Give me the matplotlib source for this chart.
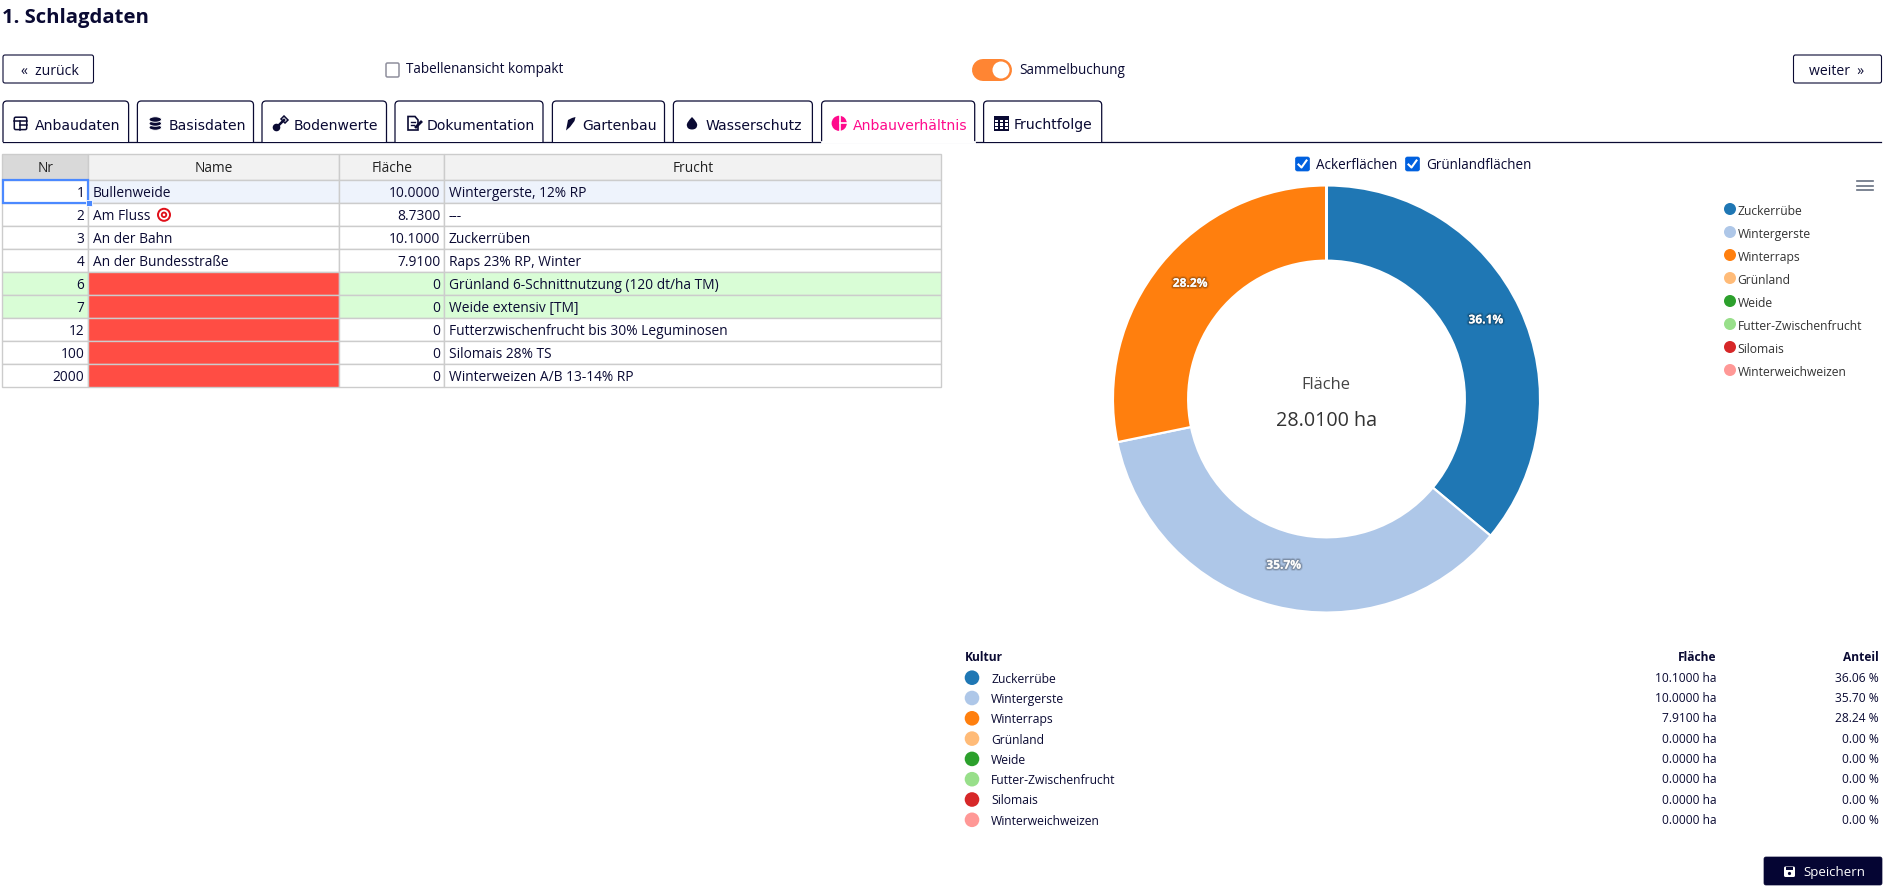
import matplotlib
matplotlib.use('Agg')
import matplotlib.pyplot as plt
import matplotlib.patheffects as pe
from matplotlib.patches import Rectangle, Circle, FancyBboxPatch, PathPatch, Ellipse, Polygon
from matplotlib.path import Path

plt.rcParams['font.family'] = ['Open Sans', 'DejaVu Sans']

# Data
nr = [1, 2, 3, 4, 6, 7, 12, 100, 2000]
names = ['Bullenweide', 'Am Fluss', 'An der Bahn', 'An der Bundesstraße', '', '', '', '', '']
flaeche = ['10.0000', '8.7300', '10.1000', '7.9100', '0', '0', '0', '0', '0']
frucht = ['Wintergerste, 12% RP', '---', 'Zuckerrüben', 'Raps 23% RP, Winter',
          'Grünland 6-Schnittnutzung (120 dt/ha TM)', 'Weide extensiv [TM]',
          'Futterzwischenfrucht bis 30% Leguminosen', 'Silomais 28% TS', 'Winterweizen A/B 13-14% RP']
table_header = ['Nr', 'Name', 'Fläche', 'Frucht']

kulturen = ['Zuckerrübe', 'Wintergerste', 'Winterraps', 'Grünland', 'Weide',
            'Futter-Zwischenfrucht', 'Silomais', 'Winterweichweizen']
kultur_ha = [10.1, 10.0, 7.91, 0, 0, 0, 0, 0]
kultur_anteil = [36.06, 35.70, 28.24, 0, 0, 0, 0, 0]
kultur_colors = ['#1f77b4', '#aec7e8', '#ff7f0e', '#ffbb78', '#2ca02c', '#98df8a', '#d62728', '#ff9896']

tab_labels = ['Anbaudaten', 'Basisdaten', 'Bodenwerte', 'Dokumentation', 'Gartenbau',
              'Wasserschutz', 'Anbauverhältnis', 'Fruchtfolge']

W, H = 1890, 892
NAVY = '#0a0a33'
PINK = '#ff0a8c'
GRID = '#cccccc'

fig = plt.figure(figsize=(W / 100, H / 100), dpi=100, facecolor='white')
ax = fig.add_axes([0, 0, 1, 1])
ax.set_xlim(0, W)
ax.set_ylim(H, 0)
ax.axis('off')


def px(n):
    return n * 0.72


def label(x, y, s, size=14, color=NAVY, ha='left', weight='normal', **kw):
    return ax.text(x, y, s, fontsize=px(size), color=color, ha=ha, va='center_baseline',
                   fontweight=weight, **kw)


def button(x0, y0, x1, y1, face='white', edge=NAVY):
    ax.add_patch(FancyBboxPatch((x0 + 1, y0 + 1), x1 - x0 - 2, y1 - y0 - 2,
                                boxstyle='round,pad=1,rounding_size=2',
                                fc=face, ec=edge, lw=0.8))


def checkbox(x, y, checked):
    if checked:
        ax.add_patch(FancyBboxPatch((x + 1, y + 1), 12, 12, boxstyle='round,pad=1,rounding_size=2',
                                    fc='#0060df', ec='#0060df', lw=0.5))
        ax.plot([x + 3, x + 6, x + 11], [y + 7.5, y + 10.5, y + 3.5], color='white', lw=1.5)
    else:
        ax.add_patch(FancyBboxPatch((x + 1, y + 1), 11, 12, boxstyle='round,pad=1,rounding_size=1.5',
                                    fc='white', ec='#8f8f9d', lw=1.1))


def tab(x0, x1, y0=101, y1=142, active=False):
    r = 4
    verts = [(x0, y1), (x0, y0 + r), (x0, y0), (x0 + r, y0), (x1 - r, y0), (x1, y0), (x1, y0 + r), (x1, y1)]
    codes = [Path.MOVETO, Path.LINETO, Path.CURVE3, Path.CURVE3, Path.LINETO, Path.CURVE3, Path.CURVE3, Path.LINETO]
    ax.add_patch(PathPatch(Path(verts, codes), fc='white', ec=NAVY, lw=0.9, zorder=3))
    if active:
        ax.plot([x0 + 0.8, x1 - 0.8], [y1, y1], color='white', lw=2, zorder=4)


# Title and top controls
label(2, 16, '1. Schlagdaten', size=20.3, weight='bold')
button(3, 55, 93.5, 83)
label(50, 69.5, '«  zurück', ha='center')
checkbox(386, 63, False)
label(406.5, 67.5, 'Tabellenansicht kompakt', size=13.5)
ax.plot([983, 1001], [70, 70], color='#ff8533', lw=px(22), solid_capstyle='round')
ax.add_patch(Circle((1001, 70), 8.5, fc='white', ec='none', zorder=3))
label(1019, 69, 'Sammelbuchung', size=13.5)
button(1793.5, 55, 1881.5, 83)
label(1837, 69.5, 'weiter  »', ha='center')

# Tabs
tab_x = [(3, 128.6), (137.4, 253.5), (262, 386.5), (395, 543), (552.4, 664.5), (673.4, 812.4),
         (821.6, 974.7), (983.6, 1101.7)]
text_x = [35, 168.3, 294, 427, 582.2, 705.3, 853, 1013.5]
ax.plot([3, 1881], [142, 142], color=NAVY, lw=0.9, zorder=2)
for i, (x0, x1) in enumerate(tab_x):
    tab(x0, x1, active=i == 6)
    label(text_x[i], 124, tab_labels[i], color=PINK if i == 6 else NAVY, zorder=5, family='DejaVu Sans')

# tab icons
z = 6
ax.add_patch(FancyBboxPatch((14.3, 117.2), 12.4, 12.4, boxstyle='round,pad=0,rounding_size=1.5', fc='none', ec=NAVY, lw=1.1, zorder=z))
ax.plot([14.3, 26.7], [120.8, 120.8], color=NAVY, lw=1.1, zorder=z)
ax.plot([19.5, 19.5], [120.8, 129.6], color=NAVY, lw=1.1, zorder=z)
ax.plot([19.5, 26.7], [125, 125], color=NAVY, lw=1.1, zorder=z)
for yy in [127.5, 123.5, 119.5]:
    ax.add_patch(Ellipse((155.3, yy), 12.5, 5.5, fc=NAVY, ec='white', lw=0.7, zorder=z))
ax.add_patch(Circle((276.5, 127.5), 3.8, fc=NAVY, ec='none', zorder=z))
ax.plot([277, 284], [127, 120], color=NAVY, lw=1.8, zorder=z)
ax.add_patch(Polygon([(281, 119), (284, 116), (288, 120), (285, 123)], fc='none', ec=NAVY, lw=1.1, zorder=z))
ax.add_patch(Polygon([(408, 116.5), (415, 116.5), (418, 120), (418, 130), (408, 130)], fc='none', ec=NAVY, lw=1.2, zorder=z))
ax.plot([410.5, 415], [122, 122], color=NAVY, lw=1, zorder=z)
ax.plot([410.5, 414], [125, 125], color=NAVY, lw=1, zorder=z)
ax.plot([416, 421], [127, 122], color=NAVY, lw=2, zorder=z)
ax.add_patch(Polygon([(566, 130.5), (568, 120), (572, 118), (575.5, 117), (574.5, 121), (570, 127)], fc=NAVY, ec='none', zorder=z))
ax.add_patch(PathPatch(Path([(692, 117), (686.6, 122.5), (686.8, 125), (687, 129.5), (692, 129.5),
                             (697, 129.5), (697.2, 125), (697.4, 122.5), (692, 117)],
                            [Path.MOVETO, Path.CURVE3, Path.CURVE3, Path.CURVE3, Path.CURVE3,
                             Path.CURVE3, Path.CURVE3, Path.CURVE3, Path.CURVE3]),
                       fc=NAVY, ec='none', zorder=z))
ax.add_patch(Circle((839.2, 123.3), 7.6, fc=PINK, ec='none', zorder=z))
ax.plot([839.8, 839.8], [115, 132], color='white', lw=1.2, zorder=z)
ax.plot([839.8, 848], [123.3, 123.3], color='white', lw=1.2, zorder=z)
ax.add_patch(Rectangle((993.7, 116.2), 15, 14.5, fc=NAVY, ec='none', zorder=z))
for bx in [995.2, 999.9, 1004.6]:
    for by in [119.8, 123.4, 127]:
        ax.add_patch(Rectangle((bx, by), 2.9, 2.3, fc='white', ec='none', zorder=z))

# Left table
col_x = [2.4, 88.4, 339, 444.3, 941.4]
row_y = [153.8, 179.8] + [179.8 + 23 * (i + 1) for i in range(len(nr))]
for j, head in enumerate(table_header):
    ax.add_patch(Rectangle((col_x[j], row_y[0]), col_x[j + 1] - col_x[j], row_y[1] - row_y[0],
                           fc='#d9d9d9' if j == 0 else '#f2f2f2', ec=GRID, lw=1))
    label((col_x[j] + col_x[j + 1]) / 2, 167, head, size=13.7, color='#222222', ha='center')
for i in range(len(nr)):
    y0, y1 = row_y[i + 1], row_y[i + 2]
    row_fill = '#eef3fc' if i == 0 else ('#d9fdd6' if i in (4, 5) else 'white')
    for j in range(4):
        face = row_fill
        if j == 0 and i == 0:
            face = 'white'
        if j == 1 and i >= 4:
            face = '#ff4d44'
        ax.add_patch(Rectangle((col_x[j], y0), col_x[j + 1] - col_x[j], y1 - y0, fc=face, ec=GRID, lw=1))
    ym = (y0 + y1) / 2
    label(col_x[1] - 4, ym, str(nr[i]), size=13.7, ha='right')
    label(col_x[1] + 4.5, ym, names[i], size=13.7)
    label(col_x[3] - 4, ym, flaeche[i], size=13.7, ha='right')
    label(col_x[3] + 4.5, ym, frucht[i], size=13.7)
ax.add_patch(Rectangle((col_x[0] + 0.5, row_y[1]), col_x[1] - col_x[0] - 1, 23, fc='none', ec='#4b89ff', lw=1.6, zorder=4))
ax.add_patch(Rectangle((85.5, 200), 6, 6, fc='#4b89ff', ec='white', lw=0.6, zorder=5))
# target icon next to Am Fluss
ax.add_patch(Circle((164, 214.8), 7, fc='#e0101a', ec='none', zorder=4))
ax.add_patch(Circle((164, 214.8), 5, fc='white', ec='none', zorder=4))
ax.add_patch(Circle((164, 214.8), 3.2, fc='#e0101a', ec='none', zorder=4))
ax.add_patch(Circle((164, 214.8), 1.3, fc='white', ec='none', zorder=4))

# Chart controls
checkbox(1295.5, 157, True)
label(1315.5, 163.5, 'Ackerflächen', size=13.5)
checkbox(1405.5, 157, True)
label(1426.5, 163.5, 'Grünlandflächen', size=13.5)
for yy in [181, 185.5, 190]:
    ax.plot([1857, 1873], [yy, yy], color='#666f80', lw=1.2)

# Donut
cx, cy, R = 1326.5, 399, 212.5
lim = 1.02
ax_pie = fig.add_axes([(cx - R * lim) / W, 1 - (cy + R * lim) / H, 2 * R * lim / W, 2 * R * lim / H])
wedges, _, pct = ax_pie.pie(kultur_ha, colors=kultur_colors, startangle=90, counterclock=False, radius=1.005,
                            wedgeprops=dict(width=0.354, edgecolor='white', linewidth=1.6),
                            autopct=lambda p: f'{p:.1f}%' if p > 0 else '', pctdistance=0.824,
                            textprops=dict(fontsize=px(12), color='white', fontweight='bold'))
ax_pie.set_xlim(-lim, lim)
ax_pie.set_ylim(-lim, lim)
for t in pct:
    tx, ty = t.get_position()
    t.set_position((tx, ty + 4.5 / R))
    t.set_path_effects([pe.Stroke(linewidth=3.2, foreground=(0, 0, 0, 0.10)),
                        pe.Stroke(linewidth=1.8, foreground=(0, 0, 0, 0.20)), pe.Normal()])
ax_pie.text(-1 / R, (399 - 382.7) / R, 'Fläche', ha='center', va='center_baseline', fontsize=px(16.5), color='#444444')
ax_pie.text(0, (399 - 418) / R, '28.0100 ha', ha='center', va='center_baseline', fontsize=px(19.8), color='#333333')

# Chart legend
for i, name in enumerate(kulturen):
    y = 209 + 23 * i
    ax.add_patch(Circle((1730, y), 6, fc=kultur_colors[i], ec='none'))
    label(1737.7, y + 1, name, size=12.1, color='#333333')

# Summary table
label(964.5, 656, 'Kultur', size=12, weight='bold')
label(1716.7, 656, 'Fläche', size=12, weight='bold', ha='right')
label(1878.5, 656, 'Anteil', size=12, weight='bold', ha='right')
for i, name in enumerate(kulturen):
    y = 677.7 + 20.3 * i
    ax.add_patch(Circle((972, y), 7.3, fc=kultur_colors[i], ec='none'))
    label(991, y, name, size=12.1)
    label(1716.7, y - 1, f'{kultur_ha[i]:.4f} ha', size=12, ha='right')
    label(1878.5, y - 1, f'{kultur_anteil[i]:.2f} %', size=12, ha='right')

# Save button
ax.add_patch(FancyBboxPatch((1765, 858), 116, 26, boxstyle='round,pad=1,rounding_size=2', fc='#050533', ec='#050533', lw=0.5))
ax.add_patch(FancyBboxPatch((1784, 866.5), 11, 10.5, boxstyle='round,pad=0,rounding_size=1.5', fc='white', ec='none'))
ax.add_patch(Rectangle((1786, 866.5), 7, 3, fc='#050533', ec='none'))
ax.add_patch(Circle((1789.5, 873.5), 1.6, fc='#050533', ec='none'))
label(1803.5, 871, 'Speichern', size=13.2, color='white')

fig.savefig('out.png', dpi=100)
